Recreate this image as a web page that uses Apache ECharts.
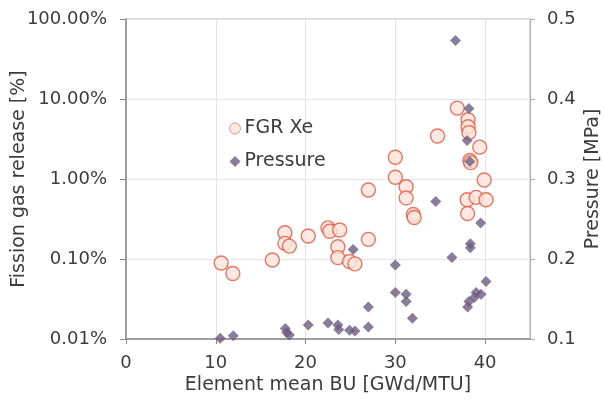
<!DOCTYPE html>
<html>
<head>
<meta charset="utf-8">
<script src="https://cdn.jsdelivr.net/npm/echarts@6/dist/echarts.min.js"></script>
<style>
  html, body { margin: 0; padding: 0; background: #fff; }
  #chart { width: 604px; height: 400px; }
</style>
</head>
<body>
<div id="chart"></div>
<script>
// Element mean burnup [GWd/MTU] vs. fission gas release [%]
const fgrBurnup = [10.6, 11.9, 16.3, 17.7, 17.7, 18.2, 20.3, 22.5, 22.7, 23.8, 23.6, 23.6, 24.9, 25.5, 27.0, 27.0,
  30.0, 30.0, 31.2, 31.2, 32.0, 32.1, 34.7, 36.9, 38.1, 38.1, 38.2, 39.4, 38.3, 38.4, 39.9, 38.0, 39.0, 40.1, 38.05];
const fgrPercent = [0.089, 0.066, 0.097, 0.213, 0.157, 0.145, 0.194, 0.245, 0.222, 0.230, 0.142, 0.104, 0.093, 0.087, 0.176, 0.73,
  1.87, 1.05, 0.80, 0.58, 0.36, 0.33, 3.45, 7.7, 5.5, 4.5, 3.8, 2.5, 1.7, 1.6, 0.97, 0.55, 0.59, 0.55, 0.37];

// Element mean burnup [GWd/MTU] vs. rod internal pressure [MPa]
const pressureBurnup = [10.5, 11.95, 17.75, 17.9, 18.2, 20.3, 22.5, 23.6, 23.7, 24.9, 25.5, 25.3, 27.0, 27.0,
  30.0, 30.0, 31.2, 31.2, 31.9, 34.5, 36.3, 36.7, 38.2, 38.0, 38.3, 39.5, 38.35, 38.35, 40.1, 39.55, 39.0, 38.8, 38.2, 38.05];
const pressureMPa = [0.101, 0.104, 0.113, 0.108, 0.105, 0.1175, 0.120, 0.1175, 0.112, 0.111, 0.110, 0.212, 0.140, 0.115,
  0.1925, 0.158, 0.156, 0.147, 0.126, 0.272, 0.202, 0.473, 0.388, 0.348, 0.322, 0.245, 0.219, 0.214, 0.172, 0.156, 0.158, 0.152, 0.147, 0.140];

const xTicks = [0, 10, 20, 30, 40];
const seriesNames = ['FGR Xe', 'Pressure'];

const FONT = 'DejaVu Sans';
const TEXT = '#3c3c3c';
const TICK_SIZE = 18;
const TITLE_SIZE = 19;

const chart = echarts.init(document.getElementById('chart'), null, { renderer: 'canvas' });

chart.setOption({
  animation: false,
  backgroundColor: '#ffffff',
  grid: {
    left: 126, right: 74, top: 19, bottom: 61,
    outerBoundsMode: 'none',
    containLabel: false,
    show: true, borderColor: '#b0b0b0', borderWidth: 1, backgroundColor: 'transparent'
  },
  legend: {
    orient: 'vertical',
    left: 224, top: 114,
    itemGap: 14,
    itemWidth: 11, itemHeight: 11,
    textStyle: { fontFamily: FONT, fontSize: 19, color: TEXT, padding: [0, 0, 0, -1] },
    data: [
      { name: seriesNames[0], icon: 'circle', itemStyle: { color: '#fde4da', borderColor: '#e88070', borderWidth: 1 } },
      { name: seriesNames[1], icon: 'diamond' }
    ]
  },
  xAxis: {
    type: 'value',
    min: 0, max: 45, interval: 10,
    name: 'Element mean BU [GWd/MTU]',
    nameLocation: 'middle',
    nameGap: 37,
    nameMoveOverlap: false,
    nameTextStyle: { fontFamily: FONT, fontSize: TITLE_SIZE, color: TEXT },
    axisLine: { show: true, lineStyle: { color: '#8a8a8a', width: 1.5 } },
    axisTick: { show: true, length: 5, customValues: xTicks, lineStyle: { color: '#8a8a8a' } },
    axisLabel: { customValues: xTicks, fontFamily: FONT, fontSize: TICK_SIZE, color: TEXT, margin: 15 },
    splitLine: { show: true, lineStyle: { color: '#e4e4e4', width: 1 } }
  },
  yAxis: [
    {
      type: 'log',
      logBase: 10,
      min: 0.01, max: 100,
      position: 'left',
      name: 'Fission gas release [%]',
      nameLocation: 'middle',
      nameGap: 97,
      nameRotate: 90,
      nameMoveOverlap: false,
      nameTextStyle: { fontFamily: FONT, fontSize: TITLE_SIZE, color: TEXT },
      axisLine: { show: true, lineStyle: { color: '#8a8a8a', width: 1.5 } },
      axisTick: { show: true, length: 6, lineStyle: { color: '#8a8a8a' } },
      axisLabel: {
        fontFamily: FONT, fontSize: TICK_SIZE, color: TEXT, margin: 19,
        formatter: v => Number(v).toFixed(2) + '%'
      },
      splitLine: { show: true, lineStyle: { color: '#e4e4e4', width: 1 } }
    },
    {
      type: 'value',
      min: 0.1, max: 0.5, interval: 0.1,
      position: 'right',
      name: 'Pressure [MPa]',
      nameLocation: 'middle',
      nameGap: 54,
      nameRotate: 90,
      nameMoveOverlap: false,
      nameTextStyle: { fontFamily: FONT, fontSize: TITLE_SIZE, color: TEXT },
      axisLine: { show: true, lineStyle: { color: '#b0b0b0', width: 1 } },
      axisTick: { show: true, length: 5, lineStyle: { color: '#b0b0b0' } },
      axisLabel: {
        fontFamily: FONT, fontSize: TICK_SIZE, color: TEXT, margin: 17,
        formatter: v => Number(v).toFixed(1)
      },
      splitLine: { show: false }
    }
  ],
  series: [
    {
      name: seriesNames[0],
      type: 'scatter',
      yAxisIndex: 0,
      symbol: 'circle',
      symbolSize: 14,
      itemStyle: { color: '#fde4da', borderColor: '#e2553f', borderWidth: 1.4 },
      data: fgrBurnup.map((bu, i) => [bu, fgrPercent[i]])
    },
    {
      name: seriesNames[1],
      type: 'scatter',
      yAxisIndex: 1,
      symbol: 'diamond',
      symbolSize: [11, 11],
      itemStyle: { color: '#6c5c80' },
      data: pressureBurnup.map((bu, i) => [bu, pressureMPa[i]])
    }
  ]
});
</script>
</body>
</html>
